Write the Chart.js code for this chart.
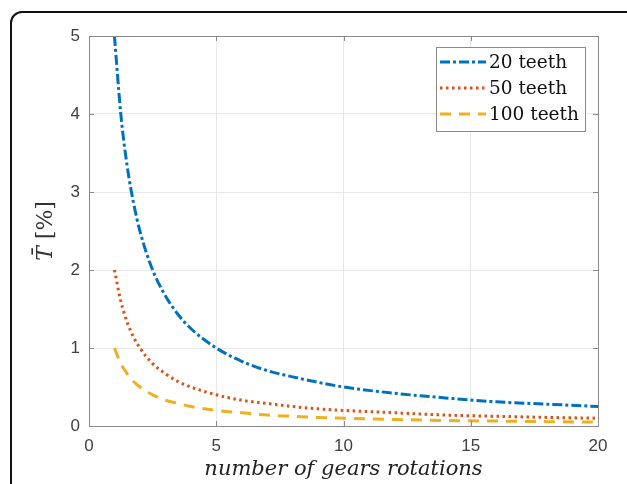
<!DOCTYPE html>
<html>
<head>
<meta charset="utf-8">
<script src="https://cdn.jsdelivr.net/npm/chart.js@4.4.0/dist/chart.umd.min.js"></script>
<style>
    html, body { margin: 0; padding: 0; width: 627px; height: 484px; overflow: hidden; background: #fff; }
    #frame { position: absolute; left: 10px; top: 11px; width: 640px; height: 520px; border: 2px solid #111; border-radius: 12px; box-sizing: border-box; }
    #wrap { position: absolute; left: 0; top: 0; width: 627px; height: 484px; }
</style>
</head>
<body>
<div id="frame"></div>
<div id="wrap"><canvas id="gear-chart" width="627" height="484"></canvas></div>
<script>
// number of gear rotations (x) and mean T [%]
const rotations = [1, 1.25, 1.5, 1.75, 2, 2.5, 3, 3.5, 4, 5, 6, 7, 8, 9, 10, 12, 14, 16, 18, 20];
const teeth20  = [5, 4, 3.33, 2.86, 2.5, 2, 1.67, 1.43, 1.25, 1, 0.83, 0.71, 0.63, 0.56, 0.5, 0.42, 0.36, 0.31, 0.28, 0.25];
const teeth50  = [2, 1.6, 1.33, 1.14, 1, 0.8, 0.67, 0.57, 0.5, 0.4, 0.33, 0.29, 0.25, 0.22, 0.2, 0.17, 0.14, 0.125, 0.11, 0.1];
const teeth100 = [1, 0.8, 0.67, 0.57, 0.5, 0.4, 0.33, 0.29, 0.25, 0.2, 0.17, 0.14, 0.125, 0.11, 0.1, 0.083, 0.071, 0.063, 0.056, 0.05];
const seriesLabels = ['20 teeth', '50 teeth', '100 teeth'];
const xTicks = [0, 5, 10, 15, 20];
const yTicks = [0, 1, 2, 3, 4, 5];

const serif = "'DejaVu Serif', 'Liberation Serif', serif";
const sans = "'Liberation Sans', Arial, sans-serif";

function toPoints(ys) {
    return rotations.map((x, i) => ({ x: x, y: ys[i] }));
}

// box, legend and y title in the MATLAB style
const matlabExtras = {
    id: 'matlabExtras',
    afterDraw(chart) {
        const ctx = chart.ctx;
        const a = chart.chartArea;
        ctx.save();
        ctx.strokeStyle = '#8a8a8a';
        ctx.lineWidth = 1;
        ctx.strokeRect(a.left + 0.5, a.top + 0.5, a.right - a.left, a.bottom - a.top);

        // small inward ticks on all sides
        ctx.beginPath();
        xTicks.forEach(v => {
            const px = Math.round(chart.scales.x.getPixelForValue(v)) + 0.5;
            ctx.moveTo(px, a.top); ctx.lineTo(px, a.top + 5);
            ctx.moveTo(px, a.bottom); ctx.lineTo(px, a.bottom - 5);
        });
        yTicks.forEach(v => {
            const py = Math.round(chart.scales.y.getPixelForValue(v)) + 0.5;
            ctx.moveTo(a.right, py); ctx.lineTo(a.right - 5, py);
            ctx.moveTo(a.left, py); ctx.lineTo(a.left + 5, py);
        });
        ctx.stroke();

        // legend
        const lx = 436, ly = 47, lw = 149, lh = 84;
        ctx.fillStyle = '#fff';
        ctx.fillRect(lx, ly, lw, lh);
        ctx.strokeStyle = '#8a8a8a';
        ctx.strokeRect(lx + 0.5, ly + 0.5, lw, lh);
        chart.data.datasets.forEach((ds, i) => {
            const y = ly + 15 + i * 26;
            ctx.beginPath();
            ctx.strokeStyle = ds.borderColor;
            ctx.lineWidth = ds.borderWidth;
            ctx.setLineDash(ds.borderDash);
            ctx.moveTo(lx + 4, y);
            ctx.lineTo(lx + 50, y);
            ctx.stroke();
            ctx.setLineDash([]);
            ctx.fillStyle = '#111';
            ctx.font = "18.5px " + serif;
            ctx.textBaseline = 'middle';
            ctx.textAlign = 'left';
            ctx.fillText(ds.label, lx + 53, y + 1);
        });

        // y axis title: T with bar, then [%]
        ctx.translate(46, (a.top + a.bottom) / 2);
        ctx.rotate(-Math.PI / 2);
        ctx.fillStyle = '#333';
        ctx.textBaseline = 'middle';
        ctx.textAlign = 'left';
        const tPart = 'T\u0304';
        const rest = ' [%]';
        ctx.font = "22px " + serif;
        const wRest = ctx.measureText(rest).width;
        ctx.font = "italic 22px " + serif;
        const wT = ctx.measureText('T').width;
        const start = -(wT + wRest) / 2;
        ctx.fillText(tPart, start, 0);
        ctx.font = "22px " + serif;
        ctx.fillText(rest, start + wT, 0);
        ctx.restore();
    }
};

const ctx = document.getElementById('gear-chart').getContext('2d');
const gearChart = new Chart(ctx, {
    type: 'line',
    data: {
        datasets: [
            { label: seriesLabels[0], data: toPoints(teeth20), borderColor: '#0072BD', borderWidth: 3, borderDash: [10, 3, 3, 3] },
            { label: seriesLabels[1], data: toPoints(teeth50), borderColor: '#D95319', borderWidth: 3, borderDash: [2.5, 3.5] },
            { label: seriesLabels[2], data: toPoints(teeth100), borderColor: '#EDB120', borderWidth: 3, borderDash: [11, 8] }
        ].map(ds => Object.assign(ds, { fill: false, pointRadius: 0, cubicInterpolationMode: 'monotone' }))
    },
    options: {
        responsive: false,
        animation: false,
        layout: { padding: { left: 0, top: 36, right: 29, bottom: 0 } },
        plugins: { legend: { display: false }, tooltip: { enabled: false } },
        scales: {
            x: {
                type: 'linear',
                min: 0, max: 20,
                afterBuildTicks: scale => { scale.ticks = xTicks.map(v => ({ value: v })); },
                afterFit: scale => { scale.height = 58; },
                grid: { color: '#e8e8e8', drawTicks: false },
                border: { display: false },
                ticks: { color: '#404040', padding: 10, font: { family: sans, size: 17 } },
                title: {
                    display: true,
                    text: 'number of gears rotations',
                    color: '#222',
                    font: { family: serif, size: 21, style: 'italic' },
                    padding: { top: 0, bottom: 2 }
                }
            },
            y: {
                min: 0, max: 5,
                afterBuildTicks: scale => { scale.ticks = yTicks.map(v => ({ value: v })); },
                afterFit: scale => { scale.width = 89; },
                grid: { color: '#e8e8e8', drawTicks: false },
                border: { display: false },
                ticks: { color: '#404040', padding: 9, font: { family: sans, size: 17 } }
            }
        }
    },
    plugins: [matlabExtras]
});
</script>
</body>
</html>
